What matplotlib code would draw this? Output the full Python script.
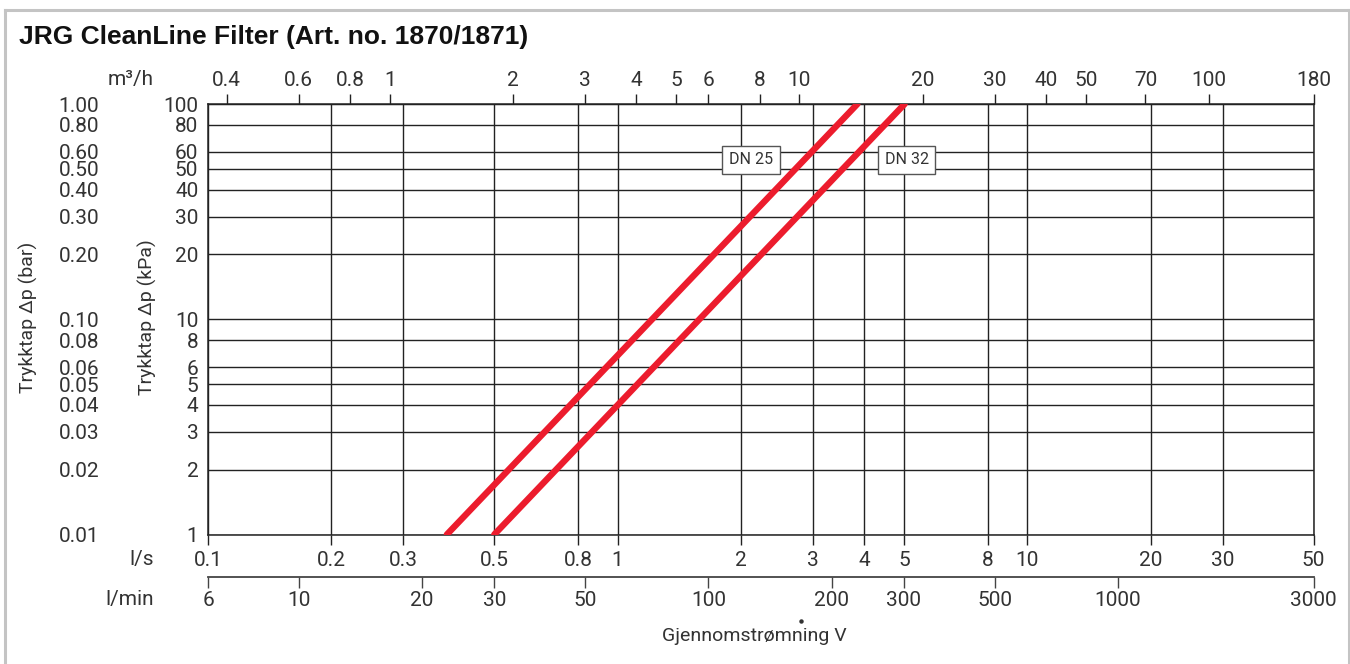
import matplotlib
matplotlib.use("Agg")
import matplotlib.pyplot as plt
from matplotlib.lines import Line2D
from matplotlib.ticker import FixedLocator, FixedFormatter, NullLocator

# --- data ---
flow_ticks_ls = [0.1, 0.2, 0.3, 0.5, 0.8, 1, 2, 3, 4, 5, 8, 10, 20, 30, 50]
flow_ticks_ls_labels = ["0.1", "0.2", "0.3", "0.5", "0.8", "1", "2", "3", "4", "5",
                        "8", "10", "20", "30", "50"]
flow_ticks_m3h = [0.4, 0.6, 0.8, 1, 2, 3, 4, 5, 6, 8, 10, 20, 30, 40, 50, 70, 100, 180]
flow_ticks_lmin = [6, 10, 20, 30, 50, 100, 200, 300, 500, 1000, 3000]
dp_ticks_kpa = [1, 2, 3, 4, 5, 6, 8, 10, 20, 30, 40, 50, 60, 80, 100]

dn25_flow_ls = [0.383, 3.85]
dn25_dp_kpa = [1, 100]
dn32_flow_ls = [0.50, 5.02]
dn32_dp_kpa = [1, 100]

series_labels = ["DN 25", "DN 32"]
label_pos = [(2.12, 55.0), (5.08, 55.0)]

W, H = 1350, 664
FONT = ["Roboto", "DejaVu Sans"]
RED = "#ec1c2d"
INK = "#222222"
GREY = "#333333"


def fx(px):
    return px / W


def fy(py):
    return 1 - py / H


plt.rcParams["font.family"] = FONT
fig = plt.figure(figsize=(W / 100, H / 100), dpi=100)

left, right, top, bottom = 208, 1313.5, 104, 534.5
ax = fig.add_axes([fx(left), fy(bottom), (right - left) / W, (bottom - top) / H])
ax.set_xscale("log")
ax.set_yscale("log")
ax.set_xlim(0.1, 50)
ax.set_ylim(1, 100)

for v in flow_ticks_ls:
    ax.axvline(v, color=INK, lw=1.0, zorder=1)
for v in dp_ticks_kpa:
    ax.axhline(v, color=INK, lw=1.0, zorder=1)
for s in ax.spines.values():
    s.set_color(INK)
    s.set_linewidth(1.1)

ax.plot(dn25_flow_ls, dn25_dp_kpa, color=RED, lw=4.6, solid_capstyle="round", zorder=3)
ax.plot(dn32_flow_ls, dn32_dp_kpa, color=RED, lw=4.6, solid_capstyle="round", zorder=3)

for text, (xv, yv) in zip(series_labels, label_pos):
    ax.text(xv, yv, text, ha="center", va="center", fontsize=11.5, color=GREY, zorder=4,
            bbox=dict(boxstyle="square,pad=0.42", fc="white", ec="#555555", lw=1.0))

# l/s axis (bottom)
ax.xaxis.set_major_locator(FixedLocator(flow_ticks_ls))
ax.xaxis.set_major_formatter(FixedFormatter(flow_ticks_ls_labels))
ax.xaxis.set_minor_locator(NullLocator())
ax.tick_params(axis="x", which="major", direction="out", length=7.2, width=1.0,
               color=INK, pad=5, labelsize=15, labelcolor=GREY)

# kPa axis (left)
ax.yaxis.set_major_locator(FixedLocator(dp_ticks_kpa))
ax.yaxis.set_major_formatter(FixedFormatter([str(v) for v in dp_ticks_kpa]))
ax.yaxis.set_minor_locator(NullLocator())
ax.tick_params(axis="y", which="major", length=0, pad=7, labelsize=15, labelcolor=GREY)

# m3/h axis (top)
top_ax = ax.secondary_xaxis("top", functions=(lambda q: q * 3.6, lambda q: q / 3.6))
top_ax.set_xticks(flow_ticks_m3h, [("%g" % v) for v in flow_ticks_m3h])
top_ax.xaxis.set_minor_locator(NullLocator())
top_ax.tick_params(axis="x", direction="out", length=7.2, width=1.0, color=INK,
                   pad=3, labelsize=15, labelcolor=GREY)
top_ax.spines["top"].set_color(INK)

# l/min axis (second bottom)
loc = -(576.7 - bottom) / (bottom - top)
lmin_ax = ax.secondary_xaxis(loc, functions=(lambda q: q * 60, lambda q: q / 60))
lmin_ax.set_xticks(flow_ticks_lmin, [str(v) for v in flow_ticks_lmin])
lmin_ax.xaxis.set_minor_locator(NullLocator())
lmin_ax.tick_params(axis="x", direction="out", length=8, width=1.0, color="#444444",
                    pad=2, labelsize=15, labelcolor=GREY)
lmin_ax.spines["bottom"].set_color("#444444")
lmin_ax.spines["bottom"].set_linewidth(1.3)

# bar axis (far left, labels only)
bar_loc = -(left - 99) / (right - left)
bar_ax = ax.secondary_yaxis(bar_loc, functions=(lambda p: p / 100, lambda p: p * 100))
bar_ax.set_yticks([v / 100 for v in dp_ticks_kpa], ["%.2f" % (v / 100) for v in dp_ticks_kpa])
bar_ax.yaxis.set_minor_locator(NullLocator())
bar_ax.tick_params(axis="y", length=0, pad=0, labelsize=15, labelcolor=GREY)
bar_ax.spines["left"].set_visible(False)

# axis captions
fig.text(fx(154), fy(80), "m³/h", ha="right", va="center", fontsize=15, color=GREY)
fig.text(fx(154), fy(560), "l/s", ha="right", va="center", fontsize=15, color=GREY)
fig.text(fx(154), fy(599), "l/min", ha="right", va="center", fontsize=15, color=GREY)
fig.text(fx(28.5), fy(317), "Trykktap Δp (bar)", rotation=90, ha="center", va="center",
         fontsize=14, color=GREY)
fig.text(fx(147.5), fy(317), "Trykktap Δp (kPa)", rotation=90, ha="center", va="center",
         fontsize=14, color=GREY)
fig.text(fx(754), fy(636), "Gjennomstrømning V", ha="center", va="center",
         fontsize=14, color=GREY)
# the small flow dot printed above the caption
fig.lines.append(Line2D([fx(801)], [fy(621)], marker="o", ms=2.2, color=GREY, lw=0,
                        transform=fig.transFigure, figure=fig))

fig.text(fx(19), fy(37), "JRG CleanLine Filter (Art. no. 1870/1871)", ha="left",
         va="center", fontsize=19, fontweight="bold", family=["Liberation Sans", "DejaVu Sans"],
         color="#111111")

# frame around the figure (open at the bottom)
border = dict(color="#c4c4c4", lw=2.2, transform=fig.transFigure, figure=fig)
fig.lines.extend([
    Line2D([fx(5), fx(5)], [fy(10), fy(H)], **border),
    Line2D([fx(5), fx(1349)], [fy(10), fy(10)], **border),
    Line2D([fx(1349), fx(1349)], [fy(10), fy(10 + H)], **border),
])

fig.savefig("out.png", dpi=100)
